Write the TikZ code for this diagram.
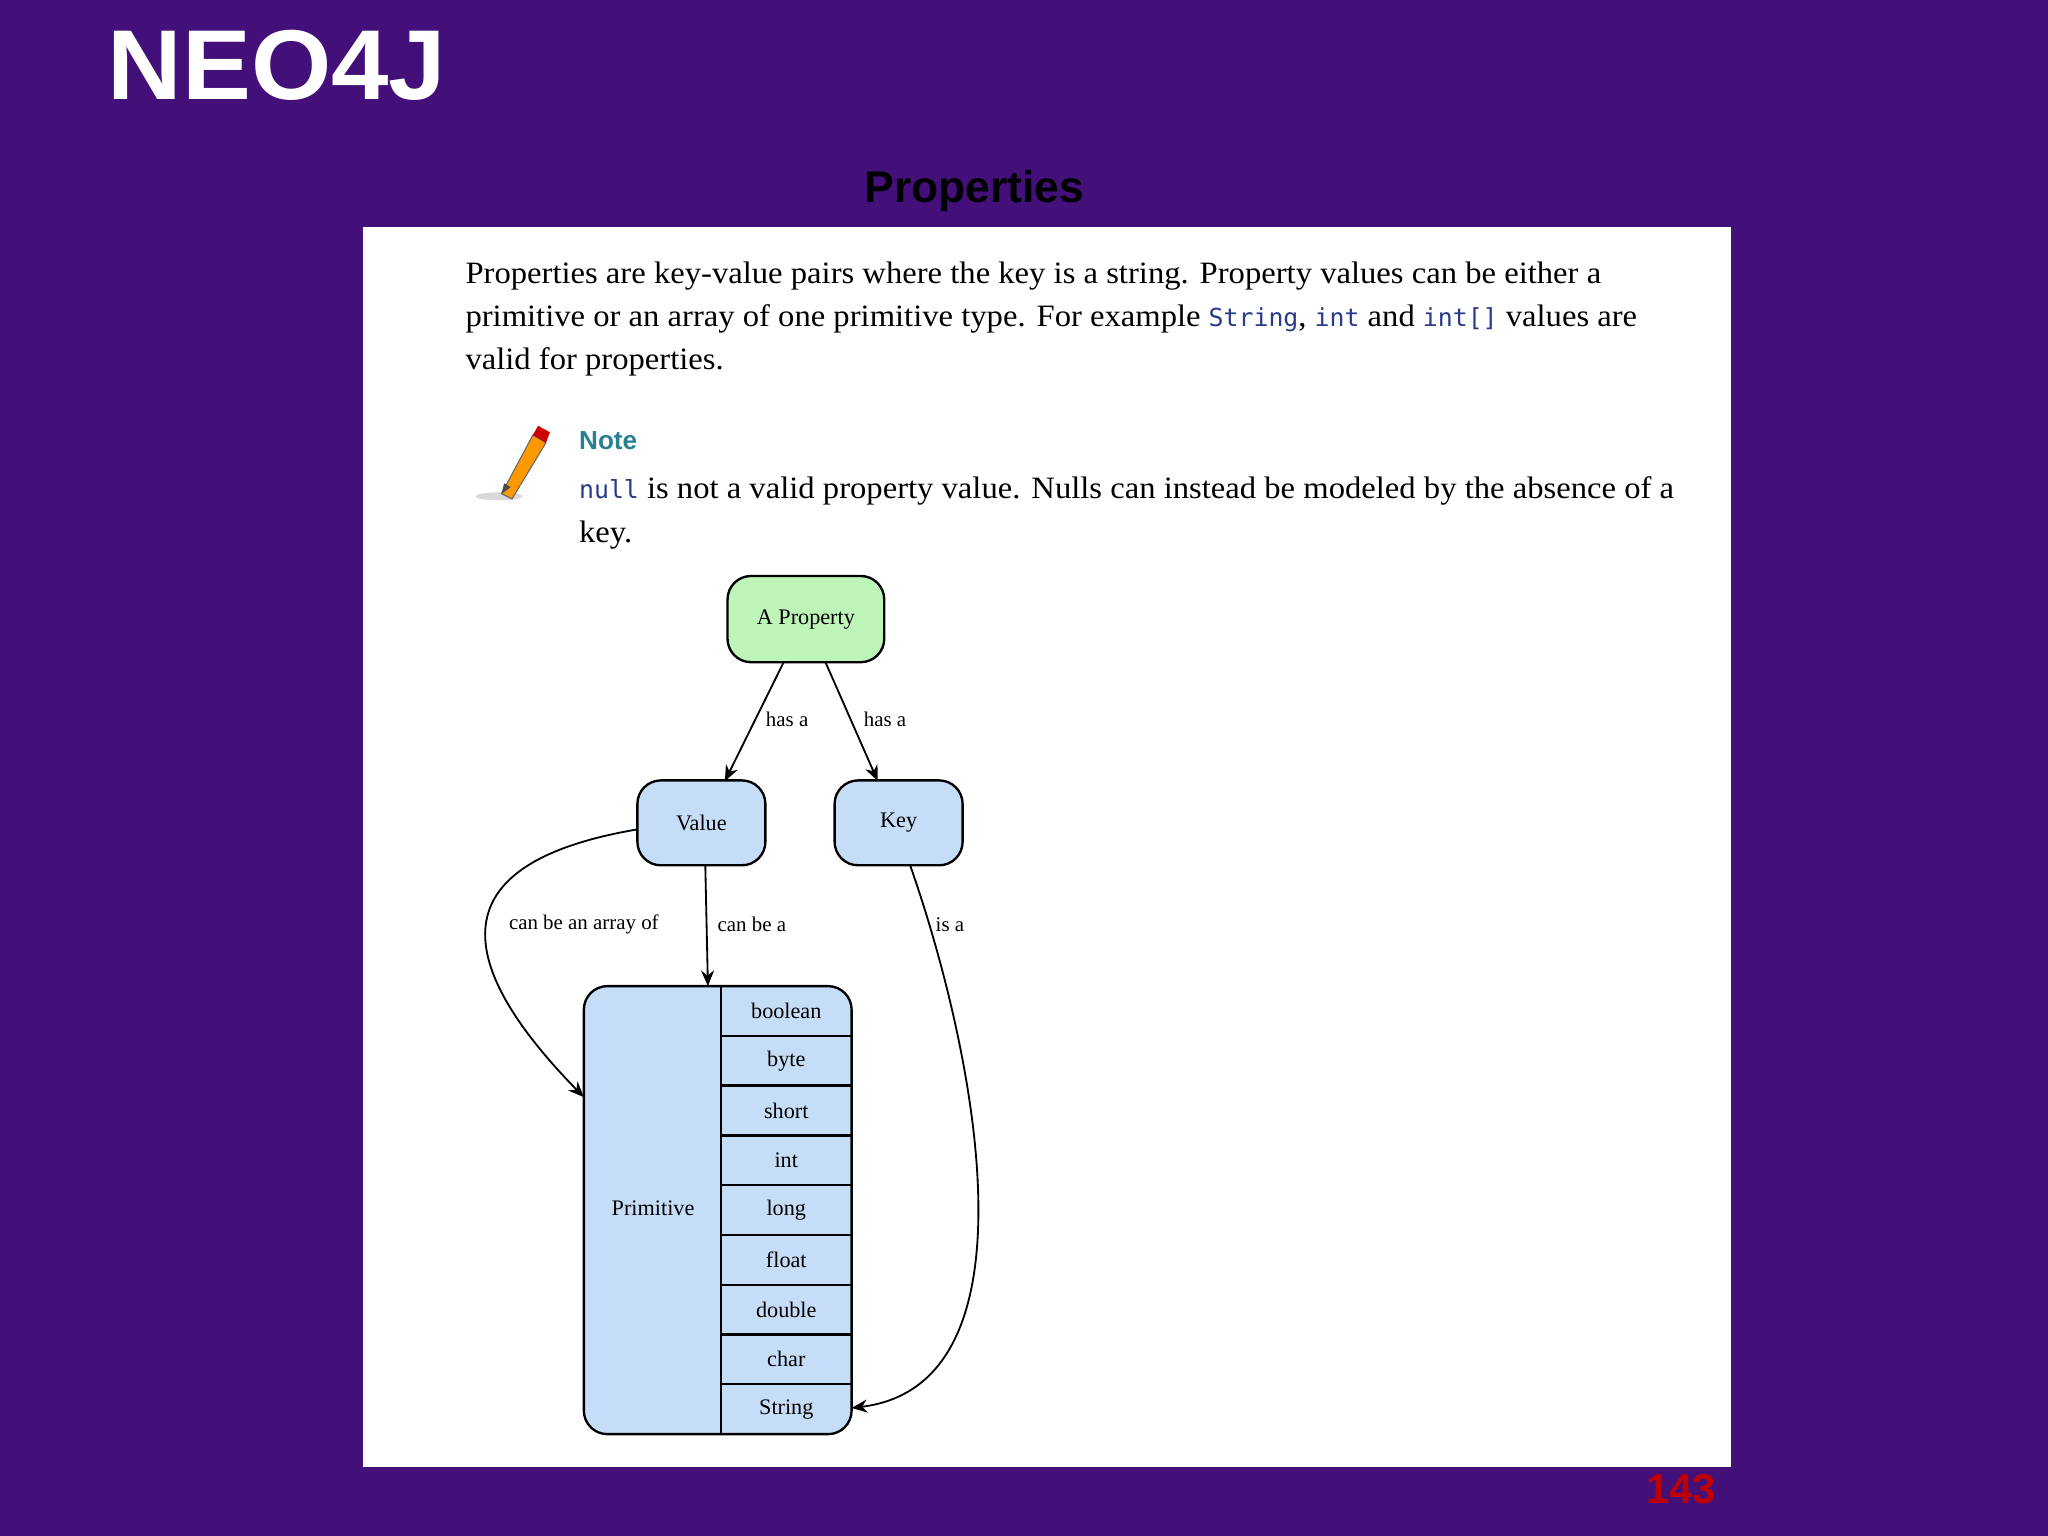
\documentclass[tikz,border=0pt]{standalone}
\usepackage{fontspec}
\setmainfont{Liberation Serif}
\setsansfont{Liberation Sans}
\setmonofont{DejaVu Sans Mono}
\newfontfamily\widefont[FakeStretch=1.05]{Liberation Serif}
\usetikzlibrary{arrows.meta}
\definecolor{bgp}{HTML}{43107A}
\definecolor{gfill}{HTML}{BDF5B8}
\definecolor{bfill}{HTML}{C6DDF7}
\definecolor{codec}{HTML}{2A3A8A}
\definecolor{notec}{HTML}{2A8090}
\tikzset{
 box/.style={draw=black,line width=0.9pt,rounded corners=9pt,inner sep=0pt,font=\fontsize{8.5}{10}\selectfont},
 lbl/.style={font=\fontsize{8}{10}\selectfont,inner sep=1pt},
 edge/.style={-{Stealth[length=6pt,width=5pt]},line width=0.7pt},
 para/.style={anchor=west,inner sep=0pt,font=\widefont\fontsize{11.9}{13}\selectfont},
 cell/.style={font=\fontsize{8.5}{10}\selectfont}
}
\newcommand{\cd}[1]{{\ttfamily\color{codec}\fontsize{9.5}{12}\selectfont #1}}
\begin{document}
\begin{tikzpicture}[x=0.5pt,y=-0.5pt]
\useasboundingbox (0,0) rectangle (1568,1176);
\fill[bgp] (0,0) rectangle (1568,1176);
\node[text=white,font=\sffamily\bfseries\fontsize{38}{40}\selectfont,anchor=west,inner sep=0pt,xscale=1.04] (title) at (82,50) {NEO4J};
\node[font=\sffamily\bfseries\fontsize{17}{20}\selectfont,inner sep=0pt] (sub) at (746,146) {Properties};
\fill[white] (278,174) rectangle (1325,1123);
\node[para] (p1) at (356,211) {Properties are key-value pairs where the key is a string. Property values can be either a};
\node[para] (p2) at (356,244) {primitive or an array of one primitive type. For example \cd{String}, \cd{int} and \cd{int[]} values are};
\node[para] (p3) at (356,277) {valid for properties.};
% pencil
\fill[gray!30] (382,380) ellipse (18 and 3);
\fill[orange!80!yellow,draw=black!60,line width=0.4pt] (384,378) -- (408,333) -- (418,339) -- (392,382) -- cycle;
\fill[red!80!black] (408,333) -- (412,326) -- (421,331) -- (418,339) -- cycle;
\fill[black!70] (384,378) -- (386,370) -- (391,373) -- cycle;
\node[para,font=\sffamily\bfseries\fontsize{10}{12}\selectfont,text=notec] (note) at (443,337) {Note};
\node[para] (n1) at (443,376) {\cd{null} is not a valid property value. Nulls can instead be modeled by the absence of a};
\node[para] (n2) at (443,410) {key.};
% diagram
\node[box,fill=gfill,minimum width=60pt,minimum height=33pt] (ap) at (617,474) {A Property};
\node[box,fill=bfill,minimum width=49pt,minimum height=32.5pt] (val) at (537,630) {Value};
\node[box,fill=bfill,minimum width=49pt,minimum height=32.5pt] (key) at (688,630) {Key};
\draw[line width=0.9pt,fill=bfill,rounded corners=9pt] (447,755) rectangle (652,1098);
\node[cell] (prim) at (500,925) {Primitive};
\draw[line width=0.9pt] (552,755) -- (552,1098);
\foreach \i in {1,...,8} \draw[line width=0.9pt] (552,{755+\i*38.1}) -- (652,{755+\i*38.1});
\foreach \t [count=\i from 0] in {boolean,byte,short,int,long,float,double,char,String}
  \node[cell] (c\i) at (602,{774+\i*38.1}) {\t};
\coordinate (vtop) at (542,755);
\coordinate (pl) at (447,840);
\coordinate (sr) at (652,1078);
\coordinate (a1) at (600,507);
\draw[edge] (a1) -- (555,598);
\draw[edge] (632,507) -- (672,598);
\node[lbl,anchor=west] (l1) at (584,551) {has a};
\node[lbl,anchor=west] (l2) at (659,551) {has a};
\draw[edge] (540,663) -- (vtop);
\node[lbl,anchor=west] (l3) at (547,708) {can be a};
\draw[edge] (488,635) .. controls (370,655) and (320,710) .. (pl);
\node[lbl] (l4) at (447,708) {can be an array of};
\draw[edge] (697,663) .. controls (745,800) and (800,1060) .. (sr);
\node[lbl,anchor=west] (l5) at (714,708) {is a};
\node[font=\sffamily\bfseries\fontsize{16}{18}\selectfont,text=red!75!black] (pg) at (1287,1140) {143};
\end{tikzpicture}
\end{document}
